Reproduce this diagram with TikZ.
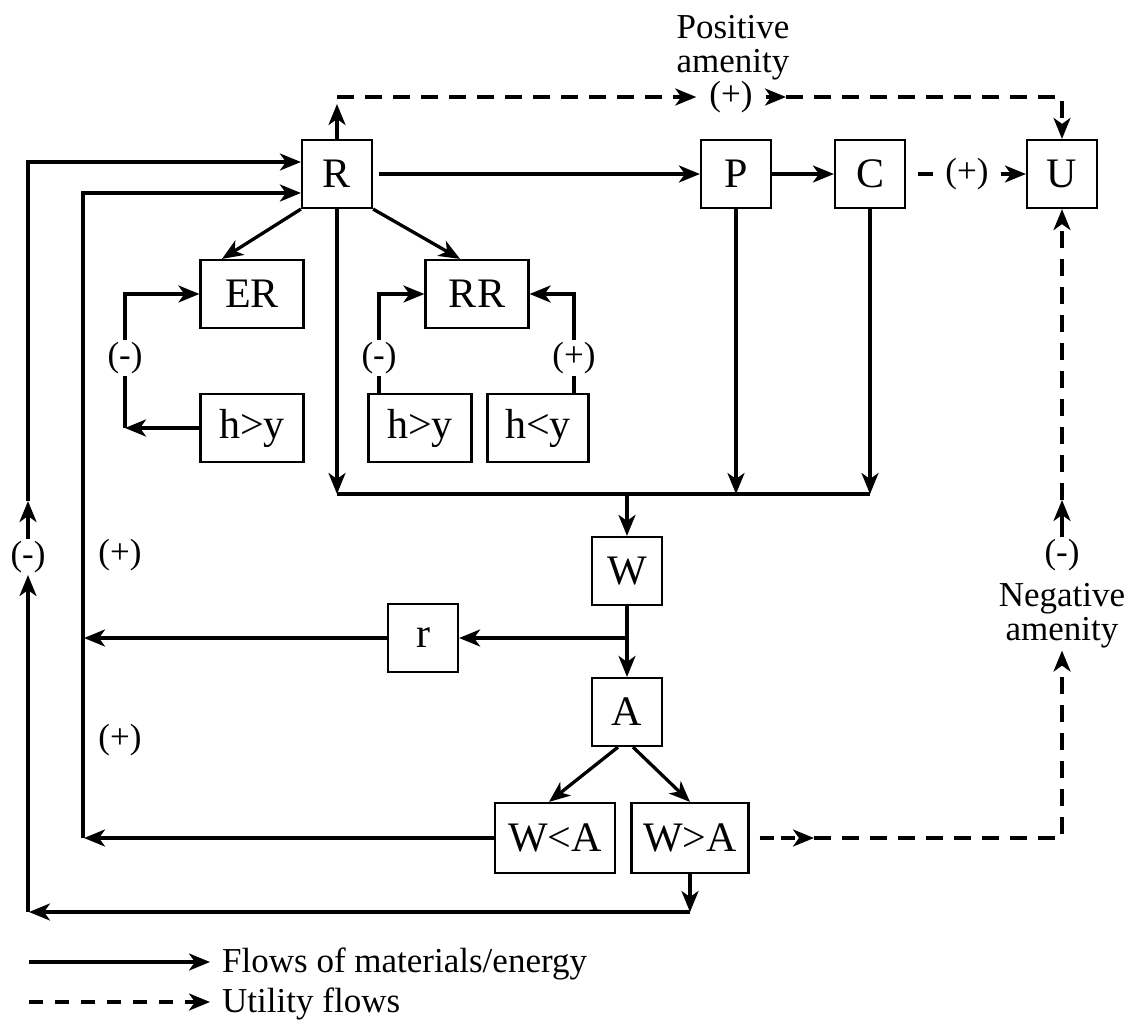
\documentclass[tikz,border=0pt]{standalone}
\usepackage{fontspec}
\setmainfont{Liberation Serif}
\usetikzlibrary{arrows.meta}
\begin{document}
\begin{tikzpicture}[x=1pt,y=-1pt,
  box/.style={draw, line width=2.2pt, minimum width=70pt, minimum height=68pt, inner sep=0pt, font=\fontsize{42}{44}\selectfont},
  wbox/.style={box, minimum width=103pt},
  lbl/.style={inner sep=2pt, font=\fontsize{35}{34}\selectfont},
  line/.style={line width=3.3pt},
  flow/.style={line, -{Stealth[length=21pt,width=17pt,inset=6pt]}},
  util/.style={line, dash pattern=on 17pt off 11pt},
  utilflow/.style={util, -{Stealth[length=21pt,width=17pt,inset=6pt]}}
]
\useasboundingbox (0,0) rectangle (1131,1030);

% boxes
\node[box] (R) at (337,174) {R};
\node[box] (P) at (736,174) {P};
\node[box] (C) at (870,174) {C};
\node[box] (U) at (1062,174) {U};
\node[wbox] (ER) at (252,294) {ER};
\node[wbox] (RR) at (477,294) {RR};
\node[wbox] (hy1) at (252,428) {h>y};
\node[wbox] (hy2) at (420,428) {h>y};
\node[wbox, minimum width=101pt] (hly) at (538,428) {h<y};
\node[box] (W) at (627,571) {W};
\node[box] (r) at (423,638) {r};
\node[box] (A) at (627,712) {A};
\node[box, minimum width=120pt, minimum height=70pt] (WlA) at (555,838) {W<A};
\node[box, minimum width=117pt, minimum height=70pt] (WgA) at (690,838) {W>A};

% labels
\node[lbl, align=center] (pa) at (733,48) {Positive\\amenity};
\node[lbl, inner xsep=13pt] (p1) at (731,97) {(+)};
\node[lbl, inner xsep=12pt] (p2) at (967,174) {(+)};
\node[lbl, align=center] (na) at (1062,616) {Negative\\amenity};
\node[lbl] (mR) at (1062,555) {(-)};
\node[lbl] (mL) at (28,557) {(-)};
\node[lbl] (pL1) at (120,555) {(+)};
\node[lbl] (pL2) at (120,740) {(+)};
\node[lbl] (mER) at (125,358) {(-)};
\node[lbl] (mRR) at (379,358) {(-)};
\node[lbl] (pRR) at (574,358) {(+)};

% top row
\draw[flow, shorten <=6pt] (R) -- (P);
\draw[flow] (P) -- (C);
\draw[util, shorten <=12pt] (C) -- (p2);
\draw[flow] (p2) -- (U);

% R to ER, RR
\draw[flow] (R.south west) -- ([xshift=-30pt]ER.north);
\draw[flow] (R.south east) -- ([xshift=-17pt]RR.north);

% feedback into ER
\draw[flow] (hy1.west) -- (mER |- hy1);
\draw[line] (mER |- hy1) -- (mER.south);
\draw[flow] (mER.north) -- (mER |- ER) -- (ER.west);
% feedback into RR
\draw[line] (mRR |- hy2.north) -- (mRR.south);
\draw[flow] (mRR.north) -- (mRR |- RR) -- (RR.west);
\draw[line] (pRR |- hly.north) -- (pRR.south);
\draw[flow] (pRR.north) -- (pRR |- RR) -- (RR.east);

% collector to W
\coordinate (cR) at (R.south |- 0,494);
\coordinate (cP) at (P.south |- 0,494);
\coordinate (cC) at (C.south |- 0,494);
\coordinate (cW) at (W.north |- 0,494);
\draw[line] (cR) -- (cC);
\draw[flow] (R.south) -- (cR);
\draw[flow] (P.south) -- (cP);
\draw[flow] (C.south) -- (cC);
\draw[flow] (cW) -- (W);

% W, r, A
\draw[flow] (W) -- (A);
\coordinate (br) at (W.south |- r);
\draw[flow] (br) -- (r);
\coordinate (iB) at (83,838);
\coordinate (iT) at (83,193);
\draw[flow, shorten >=1pt] (r) -- (iB |- r);
\draw[flow] ([xshift=-9pt]A.south) -- ([xshift=-6pt]WlA.north);
\draw[flow] ([xshift=6pt]A.south) -- (WgA.north);
\draw[flow, shorten >=1pt] (WlA) -- (iB);
\draw[flow] (iB) -- (iT) -- (R.west |- iT);

% outer loop
\coordinate (oB) at (WgA.south |- 0,912);
\coordinate (oL) at (28,912);
\coordinate (oA) at (28,501);
\coordinate (oT) at (28,162);
\draw[flow] (WgA) -- (oB);
\draw[flow, shorten >=1pt] (oB) -- (oL);
\draw[flow] (oL) -- (mL);
\draw[flow] (mL) -- (oA);
\draw[flow] (oA) -- (oT) -- (R.west |- oT);

% top utility flow
\coordinate (tRa) at (R.north |- 0,104);
\coordinate (tR) at (R.north |- p1);
\coordinate (tp) at (786,97);
\draw[flow] (R.north) -- (tRa);
\draw[utilflow] (tR) -- (p1);
\draw[flow] (p1) -- (tp);
\draw[utilflow] (tp) -- (U.north |- tp) -- (U.north);

% right utility flow
\coordinate (wa) at (814,838);
\coordinate (bR) at (na |- WgA);
\coordinate (mRa) at (1062,500);
\draw[utilflow, shorten <=10pt, dash pattern=on 14pt off 7pt] (WgA) -- (wa);
\draw[utilflow] (wa) -- (bR) -- (na);
\draw[flow] (mR) -- (mRa);
\draw[utilflow] (mRa) -- (U.south);

% legend
\node[lbl, anchor=west] (lg1) at (220,964) {Flows of materials/energy};
\node[lbl, anchor=west] (lg2) at (220,1004) {Utility flows};
\coordinate (lg1s) at (29,962);
\coordinate (lg2s) at (29,1002);
\draw[flow, shorten >=10pt] (lg1s) -- (lg1.west |- lg1s);
\draw[utilflow, shorten >=10pt, dash pattern=on 14pt off 12pt] (lg2s) -- (lg2.west |- lg2s);
\end{tikzpicture}
\end{document}
